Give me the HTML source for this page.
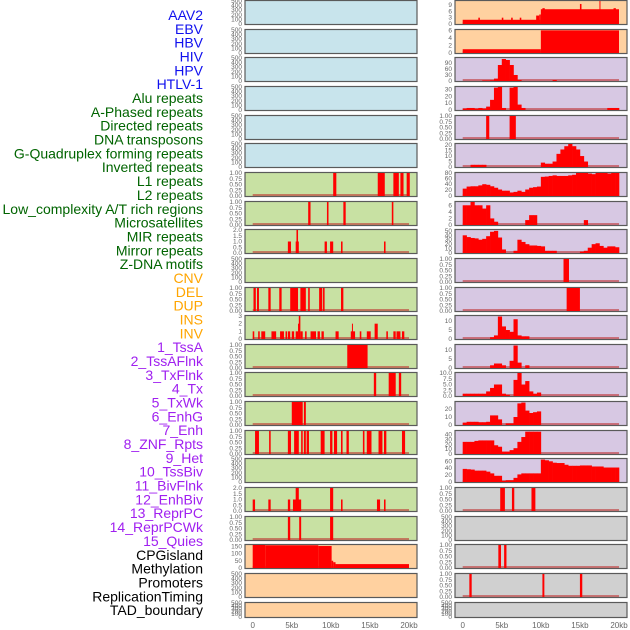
<!DOCTYPE html>
<html><head><meta charset="utf-8"><style>
html,body{margin:0;padding:0;background:#fff;}
svg{display:block;font-family:"Liberation Sans",sans-serif;}
</style></head><body>
<svg id="chart" width="630" height="630" viewBox="0 0 630 630" xmlns="http://www.w3.org/2000/svg"></svg>
<script>
const labelTexts=["AAV2","EBV","HBV","HIV","HPV","HTLV-1","Alu repeats","A-Phased repeats","Directed repeats","DNA transposons","G-Quadruplex forming repeats","Inverted repeats","L1 repeats","L2 repeats","Low_complexity A/T rich regions","Microsatellites","MIR repeats","Mirror repeats","Z-DNA motifs","CNV","DEL","DUP","INS","INV","1_TssA","2_TssAFlnk","3_TxFlnk","4_Tx","5_TxWk","6_EnhG","7_Enh","8_ZNF_Rpts","9_Het","10_TssBiv","11_BivFlnk","12_EnhBiv","13_ReprPC","14_ReprPCWk","15_Quies","CPGisland","Methylation","Promoters","ReplicationTiming","TAD_boundary"];
const labelGroups=[6,13,5,15,5];
const groupColors=["#1010ee","#006400","#ffa500","#a020f0","#000000"];
const xTicks=[0,5,10,15,20];
const xTickLabels=["0","5kb","10kb","15kb","20kb"];
// left column panel backgrounds and right column
const leftBg=["b","b","b","b","b","b","g","g","g","g","g","g","g","g","g","g","g","g","g","p","p","p"];
const rightBg=["p","p","v","v","v","v","v","v","v","v","v","v","v","v","v","v","v","y","y","y","y","y"];
// y tick sets
const T500=[0,100,200,300,400,500], T1=[0,0.25,0.5,0.75,1];
// ---- left column data: intervals [startKb,endKb,value]
const L6=[[10.3,10.7,1],[16.0,16.9,1],[18.0,18.7,1],[18.9,19.3,1],[19.7,20.1,1]];
const L7=[[7.1,7.4,1],[9.5,9.7,1],[11.6,11.9,1],[17.8,18.0,1]];
const L8=[[4.5,4.9,1],[5.5,5.9,1],[5.6,5.8,2],[9.2,9.5,1],[9.9,10.3,1],[11.3,11.5,1],[16.8,17.0,1]];
const L10=[[0.1,0.4,1],[0.55,0.8,1],[2.0,2.3,1],[3.4,3.7,1],[4.8,5.8,1],[6.1,6.8,1],[7.1,7.3,1],[8.5,8.9,1],[9.0,9.2,1],[11.3,11.6,1]];
const L11=[[0,0.2,1],[0.7,0.9,1],[1.1,1.6,1],[2.4,3.0,1],[3.5,4.0,1],[4.2,4.4,1],[4.5,4.8,1],[5.0,5.3,1],[5.5,5.8,1],[5.8,6.0,2],[5.9,6.1,3],[6.1,6.4,1],[6.7,6.9,1],[7.4,8.1,1],[8.3,8.6,1],[8.8,9.1,1],[10.6,11.0,1],[12.55,13.1,1],[12.7,12.8,2],[13.7,13.9,1],[14.6,15.1,1],[15.6,16.0,2],[17.1,17.3,1],[18.0,18.3,1],[18.4,18.9,1],[19.1,19.4,1]];
const L12=[[12.1,14.7,1]];
const L13=[[15.5,15.8,1],[17.4,18.3,1],[18.7,19.0,1]];
const L14=[[5.0,6.4,1],[6.55,6.8,1]];
const L15=[[0.3,0.8,1],[2.1,2.3,1],[4.5,4.9,1],[5.3,5.9,1],[6.2,6.4,1],[6.55,6.8,1],[6.9,7.2,1],[8.7,9.2,1],[9.9,10.2,1],[10.4,10.8,1],[11.3,11.5,1],[12.0,12.3,1],[14.1,14.3,1],[14.6,15.2,1],[16.1,16.6,1],[16.8,17.1,1],[19.1,19.5,1]];
const L17=[[0,0.3,1],[2.0,2.3,1],[4.5,4.8,1],[5.15,6.2,1],[5.5,5.9,2],[9.9,10.3,2],[11.3,11.5,1],[15.9,16.3,1],[16.8,17.0,1]];
const L18=[[4.5,4.8,1],[5.95,6.2,1],[9.9,10.3,1]];
const L19=[[0,1.6,159],[1.6,8.4,157],[8.4,10.1,152],[10.1,10.3,50],[10.3,10.6,40],[10.6,20,27]];
// ---- right column data
const R0=[[0,10,2],[2,2.2,3],[5,5.2,3],[6.2,6.4,3],[7.3,7.5,3],[9.4,9.8,4],[9.8,10,4.5],[10,20,7],[10.2,10.5,7.5],[15,15.2,9.5],[17.5,17.6,11],[19.3,19.6,7.5]];
const R1=[[0,10,1],[10,20,6]];
// 40 bins of 0.5 kb
const R2=[0,0,0,0,0,3,3,4,12,80,110,105,80,30,5,0,0,0,0,0,0,0,0,5,0,0,0,0,0,0,0,0,0,0,0,0,0,0,0,0];
const R3=[2,3,3,2,3,2,5,15,33,35,3,0,33,35,8,3,0,0,0,0,0,0,0,0,0,0,0,0,0,0,0,0,0,0,0,0,0,3,3,3];
const R4=[[3.0,3.4,1],[6.0,6.8,1]];
const R5=[0,0,2,2,2,2,0,0,0,0,0,0,0,0,0,0,0,0,0,0,4,3,3,5,12,16,19,21,19,16,10,5,0,0,0,0,0,0,0,0];
const R6=[25,32,33,33,36,40,38,33,28,22,18,18,12,14,18,14,22,28,30,32,65,66,68,70,68,68,68,70,72,78,78,78,76,74,78,78,78,76,78,78];
const R7=[6,6,7,6,6,5,6,2,1,0,0,0,0,0,0,0,1.5,3,3,0,0,0,0,0,0,0,0,0,0,0,0,1.5,0,0,0,0,0,0,0,0];
const R8=[40,36,34,33,30,32,38,48,50,35,8,0,0,5,30,25,20,17,17,16,15,5,5,5,0,0,0,0,0,0,3,5,12,20,22,16,12,15,15,13];
const R9=[[12.9,13.6,1]];
const R10=[[13.3,15.0,1]];
const R11=[0,0,0,0,0,0,0,1,2,12.5,7,5,4,11,2,1.5,1.5,0,0,0,0,0,0,0,0,0,0,0,0,0,0,0,0,0,0,0,0,0,0,0];
const R12=[0,0,0,0,0,0,0,1.5,2.5,2.5,1.5,0,4,12.5,3,0,1.5,0,0,0,0,0,0,0,0,0,0,0,0,0,0,0,0,0,0,0,0,0,0,0];
const R13=[1,1,1,1,1,1,2,3.5,5,5,1,0.5,0,7,10,5,6.5,2,1,1.5,0,0,0,0,0,0,0,0,0,0,0,0,0,0,0,0,0,0,0,0];
const R14=[3,4,4,4,3.5,3.5,4,12,12,7,0,2,2,10,27,28,18,15,16,17,0,0,0,0,0,0,0,0,0,0,0,0,0,0,0,0,0,0,0,0];
const R15=[25,25,25,27,28,28,28,28,18,15,5,5,8,12,25,35,46,46,46,46,0,0,0,0,0,0,0,0,0,0,0,0,0,0,0,0,0,0,0,0];
const R16=[38,37,36,33,33,33,30,25,18,18,3,5,5,12,22,25,25,25,25,25,65,63,60,56,55,55,50,47,47,47,48,48,48,45,45,45,42,42,42,42];
const R17=[[4.8,5.4,1],[6.3,6.6,1],[8.8,9.3,1]];
const R19=[[4.56,4.9,1],[5.3,5.6,1]];
const R20=[[0.85,1.15,1],[10.2,10.45,1],[15.0,15.3,1]];

// panel specs: [data, kind('iv'|'bin'|null), ymax, ticks, tickLabels, baseline]
const leftPanels=[
 [null,null,500,T500],[null,null,500,T500],[null,null,500,T500],[null,null,500,T500],[null,null,500,T500],[null,null,500,T500],
 [L6,"iv",1,T1],[L7,"iv",1,T1],[L8,"iv",2,[0,0.5,1,1.5,2]],[null,null,500,T500],[L10,"iv",1,T1],[L11,"iv",3,[0,1,2,3]],
 [L12,"iv",1,T1],[L13,"iv",1,T1],[L14,"iv",1,T1],[L15,"iv",1,T1],[null,null,500,T500],[L17,"iv",2,[0,0.5,1,1.5,2]],[L18,"iv",1,T1],
 [L19,"iv",159,[0,50,100,150]],[null,null,500,T500],[null,null,500,T500]];
const rightPanels=[
 [R0,"iv",10.9,[0,3,6,9]],[R1,"iv",6.1,[0,2,4,6]],[R2,"bin",115,[0,30,60,90]],[R3,"bin",34,[0,10,20,30]],[R4,"iv",1,T1],
 [R5,"bin",21,[0,5,10,15,20]],[R6,"bin",78,[0,20,40,60,80]],[R7,"bin",7,[0,2,4,6]],[R8,"bin",52,[0,10,20,30,40,50]],
 [R9,"iv",1,T1],[R10,"iv",1,T1],[R11,"bin",12.8,[0,5,10]],[R12,"bin",12.8,[0,5,10]],[R13,"bin",10,[0,2.5,5,7.5,10]],
 [R14,"bin",28.75,[0,10,20]],[R15,"bin",47.4,[0,10,20,30,40]],[R16,"bin",66.7,[0,20,40,60]],[R17,"iv",1,T1],[null,null,500,T500],
 [R19,"iv",1,T1],[R20,"iv",1,T1],[null,null,500,T500]];

const svg=document.getElementById('chart');
const NS="http://www.w3.org/2000/svg";
function mk(tag,attrs,parent){const e=document.createElementNS(NS,tag);for(const k in attrs)e.setAttribute(k,attrs[k]);(parent||svg).appendChild(e);return e;}
const bgColors={b:"#c8e4ec",g:"#c8e1a3",p:"#ffd1a0",v:"#d7c8e3",y:"#d0d0d0"};
const colX=[245,455], colW=172, kbPx=7.815, zeroOff=7.7;
function xScale(col,kb){return colX[col]+zeroOff+kb*kbPx;}
function rowTop(i){return Math.round(i*28.65);}
function rowH(i){return i===21?16:25;}
function fmt(v,ticks){const dec=ticks.some(t=>t%1!==0)?(ticks.some(t=>(t*10)%1!==0)?2:1):0;return v.toFixed(dec);}

// labels
let idx=0;
labelGroups.forEach((n,g)=>{for(let k=0;k<n;k++){const t=mk('text',{x:203,y:15+idx*13.84,'text-anchor':'end','dominant-baseline':'central','font-size':'14',fill:groupColors[g]});
 t.textContent=labelTexts[idx];
 
 
 idx++;}});

function drawPanel(col,i,spec,bg){
 const [data,kind,ymax,ticks]=spec;
 const T=rowTop(i),H=rowH(i),x0=colX[col];
 const g=mk('g',{});
 
 
 const y=v=>T+H-1-Math.min(v,ymax)/ymax*(H-2);
 mk('rect',{x:x0,y:T+0.5,width:colW,height:H-1,fill:bgColors[bg],stroke:'#5a5a5a','stroke-width':1.2},g);
 // ticks
 ticks.forEach(tv=>{const tl=mk('text',{x:x0-3,y:y(tv)+2,'text-anchor':'end','font-size':'6.5',fill:'#666'},g);
  tl.textContent=fmt(tv,ticks);
  
  });
 if(!data)return;
 mk('line',{x1:xScale(col,0),x2:xScale(col,20),y1:T+H-2,y2:T+H-2,stroke:'rgba(190,40,40,0.55)','stroke-width':2},g);
 if(kind==='iv'){data.forEach(d=>{const r=mk('rect',{x:xScale(col,d[0]),y:y(d[2]),width:Math.max(1,xScale(col,d[1])-xScale(col,d[0])),height:T+H-1-y(d[2]),fill:'#ff0000'},g);
   
   });}
 else{data.forEach((v,b)=>{if(v<=0)return;const r=mk('rect',{x:xScale(col,b*0.5),y:y(v),width:0.5*kbPx+0.3,height:T+H-1-y(v),fill:'#ff0000'},g);
   
   });}
}
leftPanels.forEach((s,i)=>drawPanel(0,i,s,leftBg[i]));
rightPanels.forEach((s,i)=>drawPanel(1,i,s,rightBg[i]));
// x axes
[0,1].forEach(col=>{xTicks.forEach((k,j)=>{const t=mk('text',{x:xScale(col,k),y:628,'text-anchor':'middle','font-size':'8',fill:'#666'});
 t.textContent=xTickLabels[j];
 
 });});
</script>
</body></html>
